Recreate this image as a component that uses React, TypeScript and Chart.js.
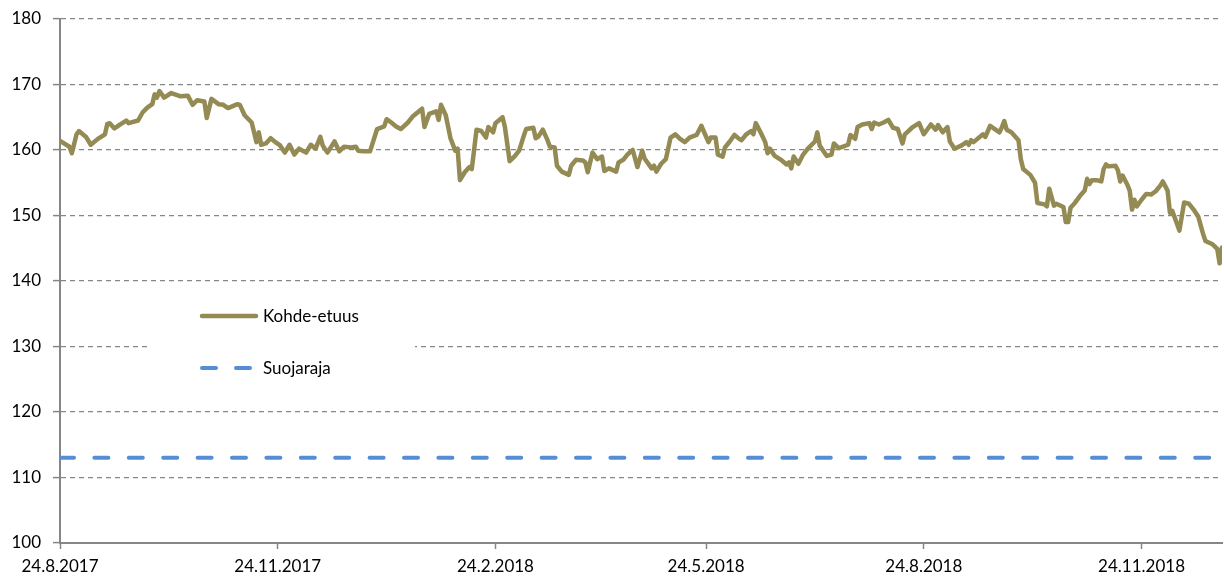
import React, { useEffect, useRef } from "react";
import { Chart, registerables } from "chart.js";

Chart.register(...registerables);

// Days since 24.8.2017
const dayOffsets = [
  0, 4, 5, 7, 8, 11, 13, 16, 19, 20, 21, 23, 25, 28, 29, 33, 35, 37, 39, 40,
  41, 42, 44, 47, 51, 54, 56, 58, 61, 62, 64, 67, 69, 71, 75, 76, 78, 81, 83, 84,
  85, 87, 89, 91, 93, 95, 97, 99, 101, 104, 106, 108, 110, 111, 113, 116, 118, 120, 123, 125,
  126, 128, 131, 134, 137, 138, 140, 142, 144, 147, 149, 153, 154, 156, 159, 160, 161, 163, 165, 167,
  168, 169, 171, 173, 174, 176, 178, 180, 181, 183, 184, 187, 188, 190, 192, 194, 196, 197, 200, 201,
  202, 204, 206, 207, 209, 210, 212, 215, 216, 218, 221, 222, 223, 225, 227, 229, 230, 232, 235, 236,
  238, 240, 242, 244, 246, 247, 250, 251, 252, 254, 256, 258, 260, 262, 264, 266, 269, 271, 274, 275,
  277, 278, 280, 281, 283, 285, 287, 288, 290, 292, 293, 294, 296, 298, 299, 300, 302, 305, 307, 308,
  309, 310, 312, 313, 314, 316, 319, 320, 321, 324, 326, 327, 329, 330, 333, 334, 336, 337, 339, 342,
  343, 344, 346, 348, 350, 352, 354, 356, 357, 360, 363, 365, 368, 370, 371, 373, 375, 376, 378, 381,
  383, 384, 385, 386, 390, 391, 393, 395, 397, 398, 399, 400, 402, 405, 406, 407, 410, 412, 413, 416,
  417, 418, 420, 421, 424, 425, 426, 427, 429, 431, 433, 434, 435, 436, 438, 440, 441, 442, 443, 446,
  447, 448, 449, 451, 452, 453, 454, 455, 457, 459, 461, 463, 465, 466, 468, 469, 470, 471, 473, 475,
  477, 479, 481, 483, 484, 487, 489, 490, 491,
];

const kohdeValues = [
  161.4, 160.5, 159.5, 162.4, 162.9, 162.0, 160.8, 161.7, 162.4, 164.0, 164.1, 163.3, 163.8, 164.5, 164.1, 164.5, 165.8, 166.5, 167.0, 168.5,
  168.0, 169.0, 168.0, 168.7, 168.2, 168.3, 166.9, 167.6, 167.4, 164.9, 167.8, 167.0, 166.9, 166.4, 167.0, 166.9, 165.3, 164.2, 161.2, 162.7,
  160.8, 161.0, 161.8, 161.2, 160.7, 159.6, 160.8, 159.3, 160.2, 159.6, 160.8, 160.2, 162.0, 160.7, 159.6, 161.3, 159.8, 160.5, 160.4, 160.5,
  159.9, 159.8, 159.8, 163.2, 163.6, 164.7, 164.2, 163.6, 163.2, 164.2, 165.1, 166.3, 163.5, 165.5, 165.9, 164.6, 166.9, 165.3, 161.8, 159.9,
  160.2, 155.4, 156.6, 157.4, 157.1, 163.1, 162.9, 161.9, 163.5, 162.7, 164.1, 165.0, 163.5, 158.3, 159.0, 159.9, 162.2, 163.2, 163.4, 161.8,
  162.0, 163.1, 161.5, 160.5, 160.4, 157.6, 156.7, 156.2, 157.6, 158.5, 158.4, 158.1, 156.6, 159.6, 158.6, 159.0, 156.8, 157.2, 156.7, 158.1,
  158.5, 159.4, 160.0, 157.4, 159.9, 158.7, 157.2, 157.6, 156.7, 157.9, 158.6, 161.9, 162.4, 161.7, 161.2, 161.9, 162.3, 163.7, 161.2, 161.9,
  161.9, 159.3, 159.0, 160.4, 161.3, 162.3, 161.7, 161.5, 162.4, 162.9, 162.4, 164.1, 162.7, 161.2, 159.5, 160.2, 159.1, 158.4, 157.8, 158.1,
  157.2, 159.0, 157.9, 158.6, 159.3, 160.2, 161.3, 162.7, 160.7, 159.1, 159.3, 161.0, 160.3, 160.4, 160.8, 162.3, 161.7, 163.5, 163.9, 164.1,
  163.2, 164.2, 163.9, 164.2, 164.6, 163.4, 163.2, 161.0, 162.4, 163.4, 164.1, 162.4, 163.9, 163.1, 163.8, 162.7, 163.5, 161.3, 160.2, 160.7,
  161.2, 160.8, 161.5, 161.2, 162.4, 162.0, 163.7, 163.2, 162.7, 163.5, 164.4, 163.1, 162.7, 161.5, 158.6, 157.1, 156.2, 155.0, 151.9, 151.7,
  151.4, 154.1, 151.5, 151.8, 151.3, 149.0, 149.0, 151.2, 152.0, 153.0, 153.8, 155.6, 154.8, 155.4, 155.4, 155.2, 157.1, 157.8, 157.5, 157.6,
  156.9, 155.2, 156.1, 154.7, 153.8, 150.9, 152.4, 151.4, 152.4, 153.3, 153.2, 153.7, 154.6, 155.2, 153.8, 150.4, 150.7, 149.7, 147.7, 152.0,
  151.8, 150.9, 149.8, 147.2, 146.1, 145.6, 144.9, 142.7, 145.1,
];

const suojarajaLevel = 113;
const firstDay = 0;
const lastDay = 491;

const xTickDays = [0, 92, 184, 273, 365, 457];
const xTickLabels = ["24.8.2017", "24.11.2017", "24.2.2018", "24.5.2018", "24.8.2018", "24.11.2018"];

const seriesNames = ["Kohde-etuus", "Suojaraja"];

const yMin = 100;
const yMax = 180;
const yStep = 10;

const OLIVE = "#948A54";
const BLUE = "#558ED5";
const AXIS = "#868686";
const TEXT = "#000";
const FONT = "Lato, 'Open Sans', sans-serif";

const legendPlugin = {
  id: "boxLegend",
  beforeDatasetsDraw(chart: any) {
    const ctx = chart.ctx as CanvasRenderingContext2D;
    ctx.save();
    ctx.fillStyle = "#ffffff";
    ctx.fillRect(148, 290, 267, 106);

    ctx.lineCap = "round";
    // Kohde-etuus
    ctx.strokeStyle = OLIVE;
    ctx.lineWidth = 4.5;
    ctx.setLineDash([]);
    ctx.beginPath();
    ctx.moveTo(202, 316);
    ctx.lineTo(256, 316);
    ctx.stroke();

    // Suojaraja
    ctx.strokeStyle = BLUE;
    ctx.lineWidth = 4;
    ctx.setLineDash([14, 20]);
    ctx.beginPath();
    ctx.moveTo(202, 368);
    ctx.lineTo(252, 368);
    ctx.stroke();
    ctx.setLineDash([]);

    ctx.fillStyle = TEXT;
    ctx.font = `17px ${FONT}`;
    ctx.textBaseline = "middle";
    ctx.textAlign = "left";
    ctx.fillText(seriesNames[0], 263, 317);
    ctx.fillText(seriesNames[1], 263, 369);
    ctx.restore();
  },
};

export default function App() {
  const canvasRef = useRef<HTMLCanvasElement | null>(null);

  useEffect(() => {
    if (!canvasRef.current) return;
    const kohdeData = dayOffsets.map((d, i) => ({ x: d, y: kohdeValues[i] }));
    const suojaData = [
      { x: firstDay, y: suojarajaLevel },
      { x: lastDay, y: suojarajaLevel },
    ];
    const chart = new Chart(canvasRef.current, {
      type: "line",
      data: {
        datasets: [
          {
            label: seriesNames[0],
            data: kohdeData,
            borderColor: OLIVE,
            backgroundColor: OLIVE,
            borderWidth: 4.5,
            pointRadius: 0,
            tension: 0,
            borderJoinStyle: "round",
            borderCapStyle: "round",
          },
          {
            label: seriesNames[1],
            data: suojaData,
            borderColor: BLUE,
            backgroundColor: BLUE,
            borderWidth: 4,
            pointRadius: 0,
            borderDash: [14, 20.4],
            borderCapStyle: "round",
          },
        ],
      },
      options: {
        animation: false,
        responsive: false,
        maintainAspectRatio: false,
        layout: { padding: { top: 19, right: 2, left: 0, bottom: 0 } },
        plugins: {
          legend: { display: false },
          tooltip: { enabled: false },
        },
        scales: {
          x: {
            type: "linear",
            min: firstDay,
            max: lastDay,
            afterBuildTicks: (scale: any) => {
              scale.ticks = xTickDays.map((v) => ({ value: v }));
            },
            afterFit: (scale: any) => {
              scale.height = 36;
            },
            ticks: {
              autoSkip: false,
              maxRotation: 0,
              minRotation: 0,
              padding: 7,
              color: TEXT,
              font: { family: FONT, size: 17 },
              callback: (_v: any, index: number) => xTickLabels[index],
            },
            grid: {
              drawOnChartArea: false,
              drawTicks: true,
              tickLength: 6,
              tickColor: AXIS,
              tickWidth: 1.5,
            },
            border: { color: AXIS, width: 2 },
          },
          y: {
            min: yMin,
            max: yMax,
            afterFit: (scale: any) => {
              scale.width = 60;
              scale.paddingTop = 0;
              scale.paddingBottom = 0;
            },
            ticks: {
              stepSize: yStep,
              padding: 12,
              color: TEXT,
              font: { family: FONT, size: 17 },
            },
            grid: {
              color: AXIS,
              lineWidth: 1.2,
              drawTicks: true,
              tickLength: 7,
              tickColor: AXIS,
              tickWidth: 1.5,
            },
            border: { color: AXIS, width: 2, dash: [5, 4] },
          },
        },
      },
      plugins: [legendPlugin],
    });
    return () => chart.destroy();
  }, []);

  return (
    <div style={{ position: "absolute", left: 0, top: 0, width: 1224, height: 579, background: "#fff" }}>
      <canvas ref={canvasRef} width={1224} height={579} style={{ display: "block" }} />
    </div>
  );
}
